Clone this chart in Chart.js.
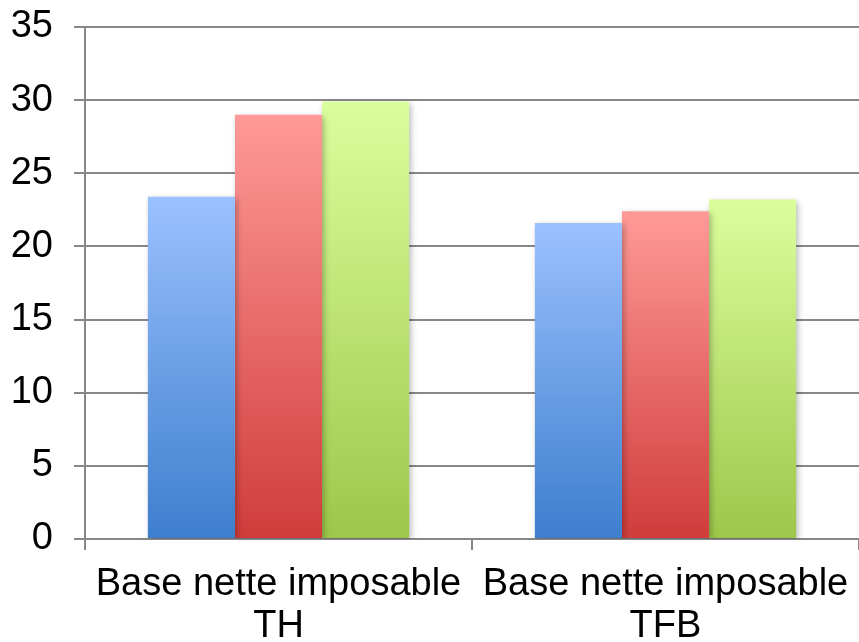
<!DOCTYPE html>
<html>
<head>
<meta charset="utf-8">
<script src="https://cdn.jsdelivr.net/npm/chart.js@4"></script>
<style>
  html, body { margin: 0; padding: 0; background: #fff; }
  #wrap { width: 859px; height: 642px; }
</style>
</head>
<body>
<div id="wrap"><canvas id="barChart"></canvas></div>
<script>
const categories = [["Base nette imposable", "TH"], ["Base nette imposable", "TFB"]];
const seriesA = [23.4, 21.6];
const seriesB = [29.0, 22.4];
const seriesC = [29.9, 23.2];
const yTicks = [0, 5, 10, 15, 20, 25, 30, 35];

// top / bottom colours of each bar's vertical gradient
const shades = [
    ["#9bc1ff", "#3d7ecd"],
    ["#ff9a98", "#cf3c3a"],
    ["#dbfe9c", "#9cc74a"],
];

function barFill(i) {
    return (ctx) => {
        const chart = ctx.chart;
        if (!chart.chartArea || ctx.raw === undefined) return shades[i][0];
        const y = chart.scales.y;
        const g = chart.ctx.createLinearGradient(0, y.getPixelForValue(ctx.raw), 0, y.getPixelForValue(0));
        g.addColorStop(0, shades[i][0]);
        g.addColorStop(1, shades[i][1]);
        return g;
    };
}

const barShadow = {
    id: 'barShadow',
    beforeDatasetsDraw(chart) {
        const c = chart.ctx;
        c.save();
        c.shadowColor = 'rgba(0,0,0,0.28)';
        c.shadowBlur = 6;
        c.shadowOffsetX = 2;
        c.shadowOffsetY = 2;
    },
    afterDatasetsDraw(chart) {
        chart.ctx.restore();
    }
};

const gridGrey = '#878787';
const labelFont = 'Liberation Sans, Arial, sans-serif';

const ctx = document.getElementById('barChart').getContext('2d');
const barChart = new Chart(ctx, {
    type: 'bar',
    data: {
        labels: categories,
        datasets: [
            { label: 'A', data: seriesA, backgroundColor: barFill(0) },
            { label: 'B', data: seriesB, backgroundColor: barFill(1) },
            { label: 'C', data: seriesC, backgroundColor: barFill(2) },
        ],
    },
    options: {
        responsive: true,
        maintainAspectRatio: false,
        animation: false,
        datasets: {
            bar: { categoryPercentage: 0.675, barPercentage: 1.0, borderWidth: 0 }
        },
        layout: { padding: { top: 27, right: 0, left: 0, bottom: 0 } },
        plugins: {
            legend: { display: false },
            tooltip: { enabled: false },
        },
        scales: {
            x: {
                grid: {
                    offset: true,
                    drawOnChartArea: false,
                    drawTicks: true,
                    tickLength: 11,
                    color: gridGrey,
                    lineWidth: 2,
                },
                border: { color: gridGrey, width: 2 },
                ticks: {
                    color: '#000',
                    font: { family: labelFont, size: 38, lineHeight: 1.1 },
                    padding: 14,
                    maxRotation: 0,
                },
                afterFit(scale) {
                    scale.height = 103;
                    scale.paddingLeft = 0;
                    scale.paddingRight = 0;
                },
            },
            y: {
                min: 0,
                max: 35,
                afterBuildTicks(scale) { scale.ticks = yTicks.map(v => ({ value: v })); },
                grid: {
                    color: gridGrey,
                    lineWidth: 2,
                    tickLength: 11,
                },
                border: { color: gridGrey, width: 2 },
                ticks: {
                    color: '#000',
                    font: { family: labelFont, size: 38 },
                    padding: 21,
                },
                afterFit(scale) {
                    scale.width = 85;
                    scale.paddingTop = 0;
                    scale.paddingBottom = 0;
                },
            },
        },
    },
    plugins: [barShadow],
});
</script>
</body>
</html>
